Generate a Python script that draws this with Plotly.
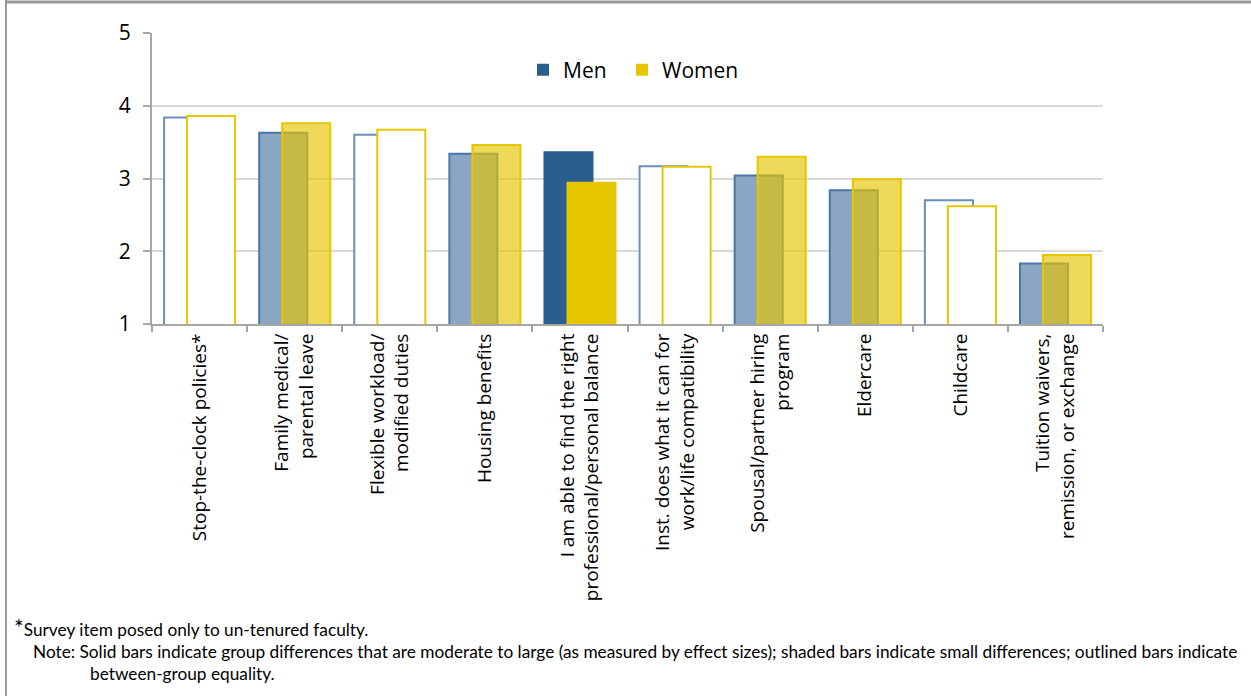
import plotly.graph_objects as go

# Work/life policy importance ratings (1-5 scale) by gender
categories = [
    "Stop-the-clock policies*",
    "Family medical/<br>parental leave",
    "Flexible workload/<br>modified duties",
    "Housing benefits",
    "I am able to find the right<br>professional/personal balance",
    "Inst. does what it can for<br>work/life compatibility",
    "Spousal/partner hiring<br>program",
    "Eldercare",
    "Childcare",
    "Tuition waivers,<br>remission, or exchange",
]
men = [3.84, 3.63, 3.60, 3.34, 3.36, 3.17, 3.04, 2.84, 2.70, 1.83]
women = [3.86, 3.76, 3.67, 3.46, 2.94, 3.16, 3.30, 2.99, 2.62, 1.95]
# effect-size class of the gender difference for each item
difference = ["equal", "small", "equal", "small", "large",
              "equal", "small", "small", "equal", "small"]

MEN_STYLE = {
    "large": ("#2a5e8f", "#2a5e8f"),
    "small": ("#8aa6c4", "#4a76a8"),
    "equal": ("#ffffff", "#6a90bb"),
}
WOMEN_STYLE = {
    "large": ("#e6c600", "#e6c600"),
    "small": ("rgba(230,197,0,0.65)", "#e6c600"),
    "equal": ("#ffffff", "#e6c600"),
}

W, H = 1251, 696
L, R, T, B = 152, 1103, 33, 324  # plot area in pixels


def px_x(px):
    return (px - L) / (R - L)


def px_y(py):
    return (B - py) / (B - T)


fig = go.Figure()

fig.add_trace(go.Bar(
    x=categories, y=men, name="Men", showlegend=False,
    offset=-0.373, width=0.505,
    marker=dict(color=[MEN_STYLE[d][0] for d in difference],
                line=dict(color=[MEN_STYLE[d][1] for d in difference], width=2)),
))
fig.add_trace(go.Bar(
    x=categories, y=women, name="Women", showlegend=False,
    offset=-0.131, width=0.505,
    marker=dict(color=[WOMEN_STYLE[d][0] for d in difference],
                line=dict(color=[WOMEN_STYLE[d][1] for d in difference], width=2)),
))

# legend keys, one legend box each so their spacing can be set
fig.add_trace(go.Bar(x=[None], y=[None], name="Men", legend="legend",
                     marker=dict(color="#2a5e8f", line=dict(width=0))))
fig.add_trace(go.Bar(x=[None], y=[None], name="Women", legend="legend2",
                     marker=dict(color="#e6c600", line=dict(width=0))))

axis_grey = "#a6a6a6"
legend_font = dict(size=21, family="Open Sans", color="#000000")

fig.update_layout(
    width=W, height=H,
    margin=dict(l=L, r=W - R, t=T, b=H - B, pad=0),
    paper_bgcolor="white", plot_bgcolor="white",
    barmode="overlay",
    font=dict(family="Open Sans", color="#000000"),
    legend=dict(
        orientation="h", x=px_x(523), xanchor="left",
        y=px_y(70), yanchor="middle", font=legend_font,
        bgcolor="rgba(0,0,0,0)",
    ),
    legend2=dict(
        orientation="h", x=px_x(622), xanchor="left",
        y=px_y(70), yanchor="middle", font=legend_font,
        bgcolor="rgba(0,0,0,0)",
    ),
    xaxis=dict(
        type="category", categoryorder="array", categoryarray=categories,
        tickson="boundaries", ticks="outside", ticklen=6, tickwidth=2,
        tickcolor=axis_grey, showline=True, linecolor=axis_grey, linewidth=2,
        tickangle=-90, tickfont=dict(size=19, family="Open Sans"),
        showgrid=False, fixedrange=True,
    ),
    yaxis=dict(
        range=[1, 5], dtick=1, tick0=1,
        ticks="outside", ticklen=7, tickwidth=2, tickcolor=axis_grey,
        showline=True, linecolor=axis_grey, linewidth=2,
        showgrid=True, gridcolor="#d9d9d9", gridwidth=2,
        tickfont=dict(size=21, family="Open Sans"), ticklabelstandoff=8,
        zeroline=False, fixedrange=True,
    ),
    shapes=[
        dict(type="line", xref="paper", yref="paper",
             x0=px_x(6), x1=px_x(W), y0=px_y(2), y1=px_y(2),
             line=dict(color="#9a9a9a", width=3)),
        dict(type="line", xref="paper", yref="paper",
             x0=px_x(6), x1=px_x(6), y0=px_y(0), y1=px_y(H),
             line=dict(color="#9a9a9a", width=2)),
    ],
)

note_font = dict(family="Lato", size=17.25, color="#000000")
fig.add_annotation(
    xref="paper", yref="paper", x=px_x(12), y=px_y(627),
    xanchor="left", yanchor="middle", showarrow=False,
    text="<span style='font-size:23px'>*</span>Survey item posed only to un-tenured faculty.",
    font=note_font,
)
fig.add_annotation(
    xref="paper", yref="paper", x=px_x(31), y=px_y(651),
    xanchor="left", yanchor="middle", showarrow=False,
    text=("Note: Solid bars indicate group differences that are moderate to large "
          "(as measured by effect sizes); shaded bars indicate small differences; "
          "outlined bars indicate"),
    font=note_font,
)
fig.add_annotation(
    xref="paper", yref="paper", x=px_x(88), y=px_y(673),
    xanchor="left", yanchor="middle", showarrow=False,
    text="between-group equality.",
    font=note_font,
)

fig.write_html("out.html")
